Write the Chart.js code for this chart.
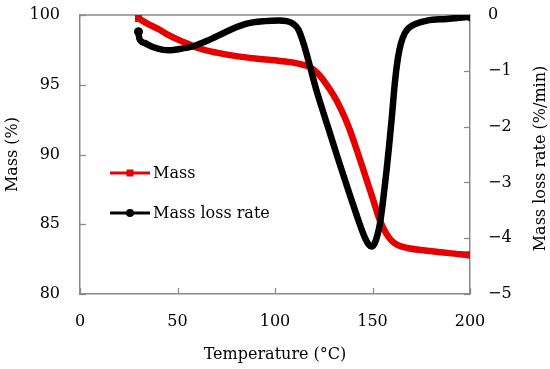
<!DOCTYPE html>
<html>
<head>
<meta charset="utf-8">
<script src="https://cdn.jsdelivr.net/npm/chart.js@4.4.1/dist/chart.umd.min.js"></script>
<style>
  html, body { margin: 0; padding: 0; background: #fff; }
  #wrap { width: 550px; height: 369px; }
</style>
</head>
<body>
<div id="wrap"><canvas id="c" width="550" height="369"></canvas></div>
<script>
// ---- data ----
const massTemps = [30, 35, 40, 45, 50, 55, 60, 70, 80, 90, 100, 108, 114, 118, 122, 126, 130, 134, 138, 142, 146, 150, 154, 157, 160, 163, 168, 175, 185, 195, 200];
const massValues = [99.75, 99.35, 99.0, 98.6, 98.25, 97.95, 97.65, 97.3, 97.05, 96.88, 96.75, 96.62, 96.45, 96.25, 95.8, 95.1, 94.25, 93.2, 91.9, 90.3, 88.6, 86.9, 85.2, 84.35, 83.8, 83.5, 83.3, 83.15, 83.0, 82.85, 82.8];

const rateTemps = [30, 30.4, 33, 37, 42, 46, 51, 58, 66, 75, 85, 95, 102, 106, 109, 112, 115, 118, 121, 124, 127, 130, 133, 136, 139, 142, 144.5, 146.5, 148, 149.5, 151, 152.5, 154, 155.5, 157, 158.5, 160, 161.5, 163, 164.5, 166.5, 169, 172, 178, 188, 200];
const rateValues = [-0.3, -0.42, -0.5, -0.57, -0.62, -0.63, -0.61, -0.56, -0.45, -0.3, -0.16, -0.11, -0.1, -0.11, -0.15, -0.26, -0.55, -0.93, -1.32, -1.66, -1.99, -2.32, -2.65, -2.97, -3.29, -3.6, -3.85, -4.02, -4.11, -4.15, -4.1, -3.95, -3.7, -3.3, -2.85, -2.35, -1.8, -1.2, -0.78, -0.52, -0.33, -0.22, -0.16, -0.1, -0.07, -0.03];

const xTicks = [0, 50, 100, 150, 200];
const massTicks = [80, 85, 90, 95, 100];
const rateTicks = [-5, -4, -3, -2, -1, 0];

const seriesNames = ['Mass', 'Mass loss rate'];
const xTitle = 'Temperature (°C)';
const yTitle = 'Mass (%)';
const y2Title = 'Mass loss rate (%/min)';

// ---- styling ----
const FONT = 'DejaVu Serif';
const FSIZE = 16;
const AXIS = '#8a8a8a';
const RED = '#e60000';
const BLACK = '#000000';

function endRadius(arr, r) { return arr.map((_, i) => (i === 0 || i === arr.length - 1) ? r : 0); }

const massData = massTemps.map((t, i) => ({ x: t, y: massValues[i] }));
const rateData = rateTemps.map((t, i) => ({ x: t, y: rateValues[i] }));

function noPad(s) { s.paddingTop = 0; s.paddingBottom = 0; s.paddingLeft = 0; s.paddingRight = 0; }

const frameAndExtras = {
  id: 'frameAndExtras',
  beforeDatasetsDraw(chart) {
    const ctx = chart.ctx, a = chart.chartArea;
    ctx.save();
    ctx.strokeStyle = AXIS;
    ctx.lineWidth = 1.5;
    ctx.beginPath(); ctx.moveTo(a.left, a.top); ctx.lineTo(a.right, a.top); ctx.stroke();
    const L = 6;
    ctx.lineWidth = 1.3;
    const sx = chart.scales.x, sy = chart.scales.y, sy2 = chart.scales.y2;
    xTicks.forEach(v => { const p = Math.round(sx.getPixelForValue(v)) + 0.5; ctx.beginPath(); ctx.moveTo(p, a.bottom); ctx.lineTo(p, a.bottom - L); ctx.stroke(); });
    massTicks.forEach(v => { const p = Math.round(sy.getPixelForValue(v)) + 0.5; ctx.beginPath(); ctx.moveTo(a.left, p); ctx.lineTo(a.left + L, p); ctx.stroke(); });
    rateTicks.forEach(v => { const p = Math.round(sy2.getPixelForValue(v)) + 0.5; ctx.beginPath(); ctx.moveTo(a.right, p); ctx.lineTo(a.right - L, p); ctx.stroke(); });
    ctx.restore();
  },
  afterDraw(chart) {
    const ctx = chart.ctx, a = chart.chartArea;
    ctx.save();
    ctx.fillStyle = '#000';
    ctx.font = FSIZE + 'px "' + FONT + '"';
    ctx.textAlign = 'center';
    ctx.textBaseline = 'middle';
    ctx.translate(541, (a.top + a.bottom) / 2 + 4);
    ctx.rotate(-Math.PI / 2);
    ctx.fillText(y2Title, 0, 0);
    ctx.restore();

    ctx.save();
    const items = [
      { ds: chart.data.datasets[1], y: 173, style: 'rect' },
      { ds: chart.data.datasets[0], y: 213, style: 'circle' }
    ];
    items.forEach(it => {
      ctx.strokeStyle = it.ds.borderColor;
      ctx.fillStyle = it.ds.borderColor;
      ctx.lineWidth = 3;
      ctx.beginPath(); ctx.moveTo(110, it.y); ctx.lineTo(150, it.y); ctx.stroke();
      if (it.style === 'rect') { ctx.fillRect(126.5, it.y - 3.5, 7, 7); }
      else { ctx.beginPath(); ctx.arc(130, it.y, 4, 0, Math.PI * 2); ctx.fill(); }
      ctx.fillStyle = '#000';
      ctx.font = FSIZE + 'px "' + FONT + '"';
      ctx.textAlign = 'left';
      ctx.textBaseline = 'middle';
      ctx.fillText(it.ds.label, 153, it.y + 1);
    });
    ctx.restore();
  }
};

new Chart(document.getElementById('c'), {
  type: 'line',
  data: {
    datasets: [
      {
        label: seriesNames[1], data: rateData, yAxisID: 'y2', xAxisID: 'x',
        borderColor: BLACK, backgroundColor: BLACK, borderWidth: 6.5,
        pointStyle: 'circle', pointRadius: endRadius(rateData, 4.5), pointBorderWidth: 0,
        cubicInterpolationMode: 'monotone', fill: false
      },
      {
        label: seriesNames[0], data: massData, yAxisID: 'y', xAxisID: 'x',
        borderColor: RED, backgroundColor: RED, borderWidth: 6.5,
        pointStyle: 'rect', pointRadius: endRadius(massData, 5), pointBorderWidth: 0,
        cubicInterpolationMode: 'monotone', fill: false
      }
    ]
  },
  options: {
    responsive: false,
    devicePixelRatio: 1,
    animation: false,
    layout: { padding: { top: 15, left: 0, right: 0, bottom: 0 } },
    plugins: { legend: { display: false }, tooltip: { enabled: false } },
    font: { family: FONT, size: FSIZE },
    scales: {
      x: {
        type: 'linear', position: 'bottom', min: 0, max: 200,
        afterBuildTicks: s => { s.ticks = xTicks.map(v => ({ value: v })); },
        ticks: { color: '#000', font: { family: FONT, size: FSIZE }, padding: 18, maxRotation: 0 },
        grid: { display: true, drawOnChartArea: false, drawTicks: false },
        border: { display: true, color: AXIS, width: 1.5 },
        title: { display: true, text: xTitle, color: '#000', font: { family: FONT, size: FSIZE }, padding: { top: 0, bottom: 5 } },
        afterFit: s => { s.height = 75; noPad(s); }
      },
      y: {
        type: 'linear', position: 'left', min: 80, max: 100,
        afterBuildTicks: s => { s.ticks = massTicks.map(v => ({ value: v })); },
        ticks: { color: '#000', font: { family: FONT, size: FSIZE }, padding: 20 },
        grid: { display: true, drawOnChartArea: false, drawTicks: false },
        border: { display: true, color: AXIS, width: 1.5 },
        title: { display: true, text: yTitle, color: '#000', font: { family: FONT, size: FSIZE }, padding: { top: 3, bottom: 0 } },
        afterFit: s => { s.width = 80; noPad(s); }
      },
      y2: {
        type: 'linear', position: 'right', min: -5, max: 0,
        afterBuildTicks: s => { s.ticks = rateTicks.map(v => ({ value: v })); },
        ticks: { color: '#000', font: { family: FONT, size: FSIZE }, padding: 18,
          callback: v => (v < 0 ? '\u2212' + Math.abs(v) : String(v)) },
        grid: { display: true, drawOnChartArea: false, drawTicks: false },
        border: { display: true, color: AXIS, width: 1.5 },
        afterFit: s => { s.width = 80; noPad(s); }
      }
    }
  },
  plugins: [frameAndExtras]
});
</script>
</body>
</html>
